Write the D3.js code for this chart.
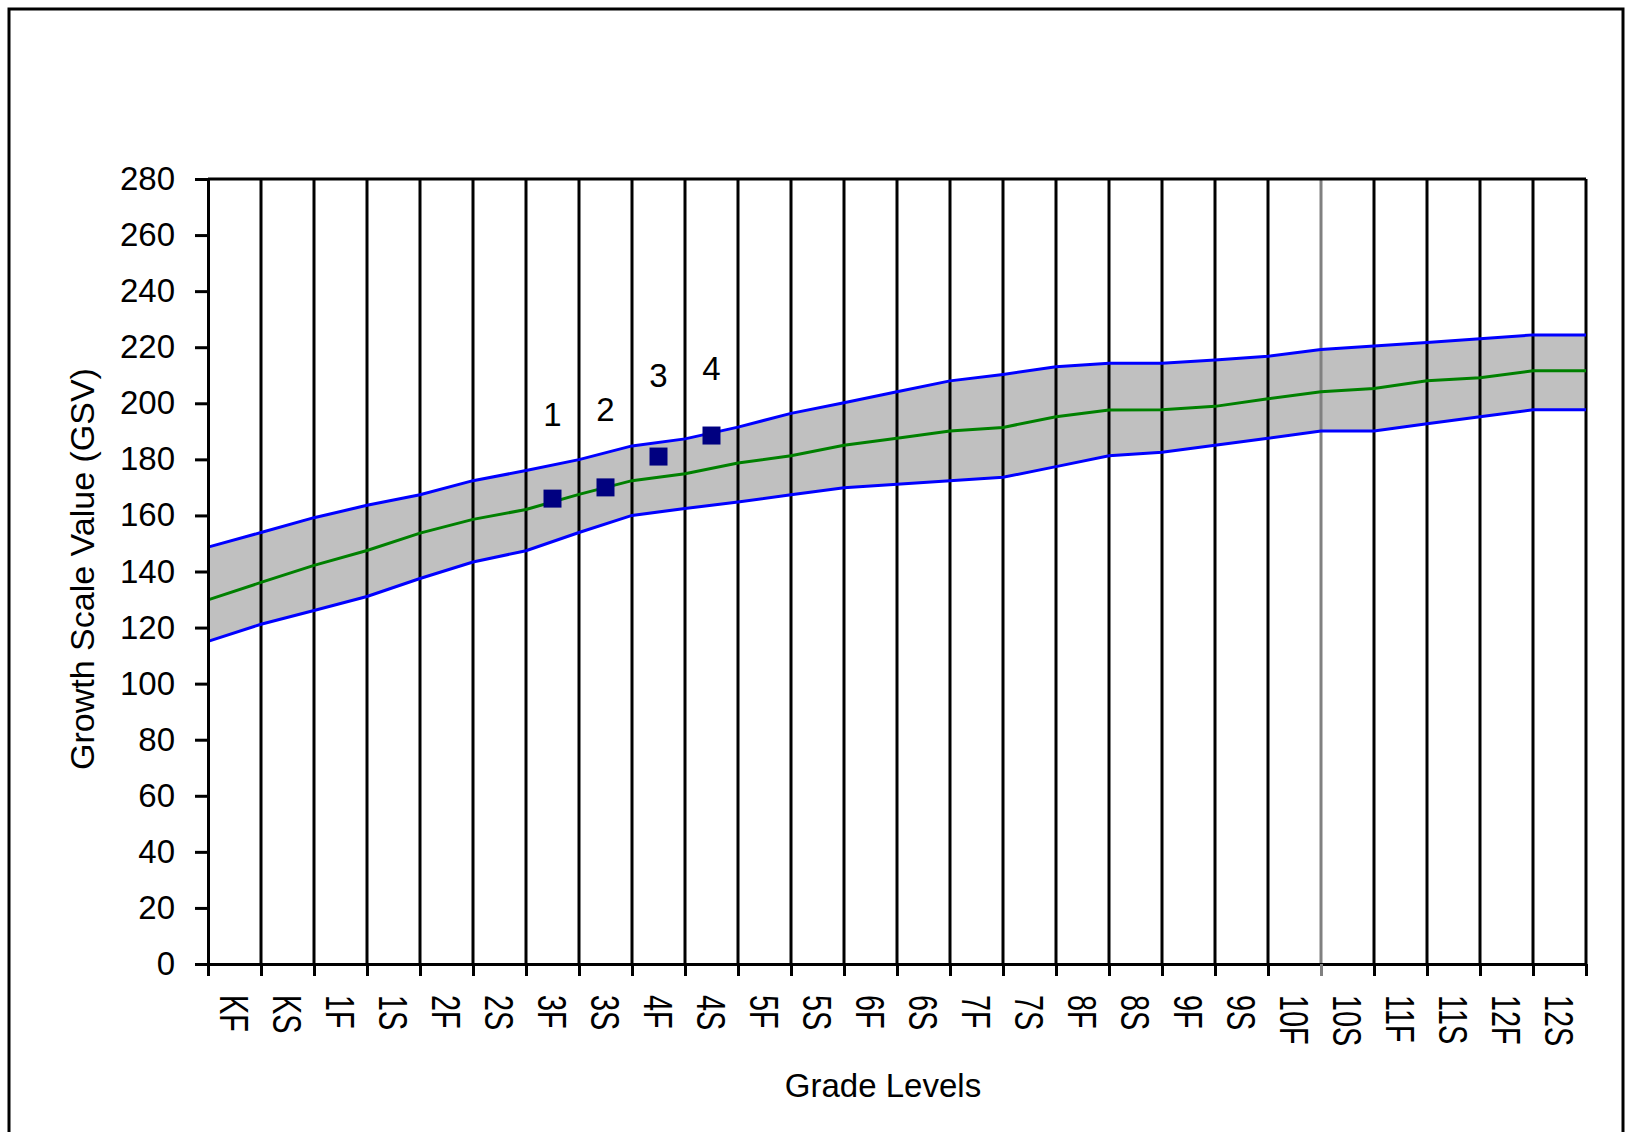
<!DOCTYPE html>
<html>
<head>
<meta charset="utf-8">
<script src="https://cdn.jsdelivr.net/npm/d3@7"></script>
<style>
  html, body { margin: 0; padding: 0; background: #fff; }
  svg { display: block; }
  text { font-family: "Liberation Sans", Arial, sans-serif; fill: #000; }
</style>
</head>
<body>
<svg id="chart" width="1631" height="1132"></svg>
<script>
// Grade levels: fall / spring of each grade
var grades = ["KF", "KS", "1F", "1S", "2F", "2S", "3F", "3S", "4F", "4S",
  "5F", "5S", "6F", "6S", "7F", "7S", "8F", "8S", "9F", "9S",
  "10F", "10S", "11F", "11S", "12F", "12S"];

// Band values read at each grade boundary (27 points, left edge to right edge)
var upper = [148.7, 153.9, 159.2, 163.6, 167.4, 172.4, 176, 179.9, 184.8, 187.3,
  191.5, 196.4, 200.2, 204.1, 208, 210.3, 213, 214.3, 214.3, 215.4,
  216.8, 219.2, 220.4, 221.7, 223, 224.4, 224.4];
var median = [129.9, 136.1, 142.2, 147.5, 153.7, 158.6, 162.1, 167.5, 172.4, 174.9,
  178.7, 181.3, 185, 187.5, 190.1, 191.4, 195.2, 197.6, 197.7, 198.9,
  201.6, 204.1, 205.3, 208, 209.1, 211.6, 211.6];
var lower = [115.1, 121.2, 126.1, 131.1, 137.5, 143.4, 147.4, 153.9, 160, 162.5,
  164.8, 167.4, 169.9, 171.1, 172.4, 173.6, 177.4, 181.3, 182.5, 185,
  187.5, 190.1, 190.1, 192.7, 195.2, 197.7, 197.7];

// Student scores
var scoreGrades = ["3F", "3S", "4F", "4S"];
var scores = [166, 170, 181, 188.5];
var scoreNames = ["1", "2", "3", "4"];
var scoreLabelAt = [196, 198, 210, 212.5];

var yTicks = d3.range(0, 281, 20);

var svg = d3.select("#chart");
// plot box (window.top is reserved, so keep these names distinct)
var plotL = 208, plotR = 1586, plotT = 179, plotB = 964;

var xEdge = d3.scaleLinear().domain([0, grades.length]).range([plotL, plotR]);
var xBand = d3.scaleBand().domain(grades).range([plotL, plotR]);
var y = d3.scaleLinear().domain([0, 280]).range([plotB, plotT]);

// outer frame
svg.append("rect")
  .attr("x", 9).attr("y", 9)
  .attr("width", 1614).attr("height", 1140)
  .attr("fill", "none").attr("stroke", "#000").attr("stroke-width", 3);

// band
var pts = d3.range(upper.length);
svg.append("path")
  .datum(pts)
  .attr("fill", "#c0c0c0")
  .attr("d", d3.area()
    .x(i => xEdge(i))
    .y0(i => y(lower[i]))
    .y1(i => y(upper[i])));

// vertical grid lines at grade boundaries
svg.append("g")
  .selectAll("line")
  .data(d3.range(1, grades.length + 1))
  .join("line")
  .attr("x1", i => xEdge(i)).attr("x2", i => xEdge(i))
  .attr("y1", plotT).attr("y2", plotB)
  .attr("stroke", i => i === 21 ? "#808080" : "#000")
  .attr("stroke-width", 3);

// top border of plot
svg.append("line")
  .attr("x1", plotL).attr("x2", plotR)
  .attr("y1", plotT).attr("y2", plotT)
  .attr("stroke", "#000").attr("stroke-width", 3);

// band lines
[[upper, "#0000ff"], [median, "#008000"], [lower, "#0000ff"]].forEach(function (s) {
  svg.append("path")
    .datum(pts)
    .attr("fill", "none")
    .attr("stroke", s[1])
    .attr("stroke-width", 3)
    .attr("d", d3.line().x(i => xEdge(i)).y(i => y(s[0][i])));
});

// y axis
var yAxis = svg.append("g")
  .attr("transform", "translate(" + plotL + ",0)")
  .call(d3.axisLeft(y).tickValues(yTicks).tickSize(13).tickPadding(20).tickSizeOuter(0));
yAxis.select(".domain").attr("stroke-width", 3);
yAxis.selectAll(".tick line").attr("stroke-width", 3);
yAxis.selectAll("text").style("font-size", "33px").attr("fill", "#000");

// x axis: ticks at boundaries
var xAxis = svg.append("g")
  .attr("transform", "translate(0," + plotB + ")")
  .call(d3.axisBottom(xEdge).tickValues(d3.range(grades.length + 1))
    .tickFormat("").tickSize(12).tickSizeOuter(0));
xAxis.select(".domain").attr("stroke-width", 3);
xAxis.selectAll(".tick line")
  .attr("stroke-width", 3)
  .attr("stroke", (d, i) => i === 21 ? "#808080" : "#000");

// x labels, rotated reading downwards
svg.append("g")
  .selectAll("text")
  .data(grades)
  .join("text")
  .attr("transform", d => "translate(" + (xBand(d) + xBand.bandwidth() / 2) + ",995) rotate(90) scale(0.72,1)")
  .attr("dy", "0.36em")
  .style("font-size", "40px")
  .text(d => d);

// student scores
svg.append("g")
  .selectAll("rect")
  .data(scores)
  .join("rect")
  .attr("x", (d, i) => xBand(scoreGrades[i]) + xBand.bandwidth() / 2 - 9)
  .attr("y", d => y(d) - 9)
  .attr("width", 18).attr("height", 18)
  .attr("fill", "#000080");

svg.append("g")
  .selectAll("text")
  .data(scoreNames)
  .join("text")
  .attr("x", (d, i) => xBand(scoreGrades[i]) + xBand.bandwidth() / 2)
  .attr("y", (d, i) => y(scoreLabelAt[i]))
  .attr("dy", "0.36em")
  .attr("text-anchor", "middle")
  .style("font-size", "33px")
  .text(d => d);

// axis titles
svg.append("text")
  .attr("x", 883).attr("y", 1097)
  .attr("text-anchor", "middle")
  .style("font-size", "33px")
  .text("Grade Levels");

svg.append("text")
  .attr("transform", "translate(82,569) rotate(-90)")
  .attr("dy", "0.36em")
  .attr("text-anchor", "middle")
  .style("font-size", "34px")
  .text("Growth Scale Value (GSV)");
</script>
</body>
</html>
